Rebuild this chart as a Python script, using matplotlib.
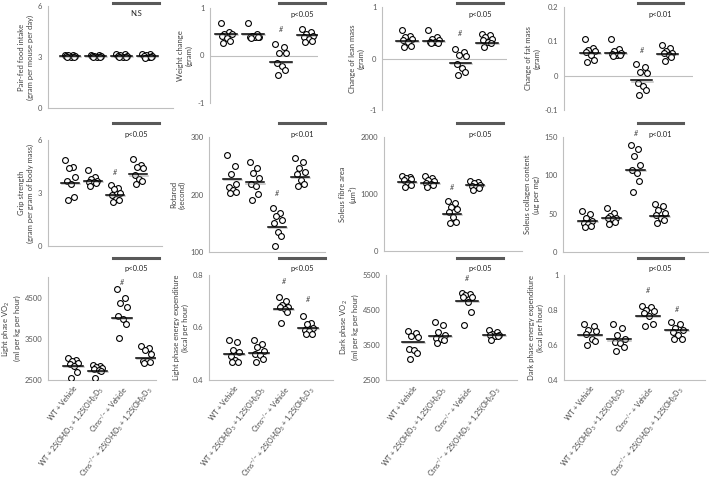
import matplotlib
matplotlib.use("Agg")
import matplotlib.pyplot as plt
import matplotlib.patheffects as pe
from matplotlib.lines import Line2D
import numpy as np

plt.rcParams['font.family'] = ['Lato', 'DejaVu Sans']
plt.rcParams['mathtext.fontset'] = 'custom'
plt.rcParams['mathtext.rm'] = 'Lato'
plt.rcParams['mathtext.it'] = 'Lato:italic'
plt.rcParams['mathtext.bf'] = 'Lato:bold'

W, H = 709, 478

groups = ["WT + Vehicle",
          "WT + 25(OH)D$_3$ + 1,25(OH)$_2$D$_3$",
          "Ctns$^{-/-}$ + Vehicle",
          "Ctns$^{-/-}$ + 25(OH)D$_3$ + 1,25(OH)$_2$D$_3$"]

# valori, un elenco per gruppo
food_intake = [[3.0, 3.1, 3.05, 3.0, 3.1, 3.0, 3.05, 3.1],
               [3.0, 3.1, 3.05, 3.0, 3.1, 3.0, 3.05, 3.05],
               [3.0, 3.15, 3.05, 3.0, 3.2, 3.0, 3.1, 3.05],
               [3.0, 3.15, 3.05, 2.95, 3.2, 3.0, 3.1, 3.05]]
food_mean = [3.05, 3.05, 3.05, 3.05]

weight_change = [[0.68, 0.49, 0.46, 0.45, 0.37, 0.3, 0.27, 0.42],
                 [0.68, 0.45, 0.4, 0.38, 0.37, 0.42, 0.4, 0.38],
                 [0.25, 0.18, 0.05, 0.05, -0.15, -0.22, -0.3, -0.42],
                 [0.55, 0.5, 0.45, 0.42, 0.38, 0.35, 0.3, 0.28]]
weight_mean = [0.45, 0.45, -0.14, 0.43]

lean_mass = [[0.56, 0.43, 0.41, 0.37, 0.32, 0.24, 0.23, 0.36],
             [0.56, 0.42, 0.37, 0.32, 0.30, 0.33, 0.35, 0.31],
             [0.19, 0.13, 0.06, 0.05, -0.1, -0.19, -0.26, -0.32],
             [0.48, 0.45, 0.41, 0.37, 0.32, 0.30, 0.23, 0.35]]
lean_mean = [0.34, 0.34, -0.08, 0.30]

fat_mass = [[0.108, 0.08, 0.075, 0.07, 0.06, 0.046, 0.041, 0.072],
            [0.108, 0.077, 0.072, 0.067, 0.06, 0.058, 0.063, 0.061],
            [0.035, 0.025, 0.01, 0.008, -0.02, -0.03, -0.043, -0.055],
            [0.09, 0.08, 0.073, 0.067, 0.06, 0.054, 0.043, 0.065]]
fat_mean = [0.067, 0.067, -0.014, 0.063]

grip = [[4.85, 4.5, 4.4, 3.9, 3.7, 3.5, 2.75, 2.6],
        [4.3, 3.9, 3.8, 3.7, 3.6, 3.55, 3.4, 3.65],
        [3.43, 3.3, 3.2, 3.0, 2.87, 2.68, 2.6, 2.5],
        [4.94, 4.6, 4.5, 4.4, 4.0, 3.7, 3.53, 3.8]]
grip_mean = [3.57, 3.66, 2.87, 4.05]

rotarod = [[268, 249, 236, 219, 213, 207, 202, 205],
           [256, 246, 238, 228, 218, 214, 201, 190],
           [176, 167, 162, 156, 150, 134, 128, 111],
           [263, 256, 246, 240, 236, 225, 218, 214]]
rotarod_mean = [227, 221, 143, 231]

fibre_area = [[1309, 1292, 1264, 1197, 1152, 1124, 1280, 1240],
              [1320, 1275, 1253, 1197, 1152, 1130, 1220, 1180],
              [871, 843, 770, 730, 690, 590, 517, 489],
              [1236, 1208, 1163, 1140, 1107, 1067, 1190, 1120]]
fibre_mean = [1208, 1191, 657, 1152]

collagen = [[53.5, 50, 44.5, 40, 37.5, 34, 32, 36],
            [57, 51.5, 47, 45, 42.5, 39, 37, 44],
            [140, 135, 125, 113, 107, 103, 92, 78],
            [62, 60.5, 55, 51.5, 48, 41.5, 37.5, 45]]
collagen_mean = [40, 44.5, 107, 46.5]

light_vo2 = [[3030, 2990, 2910, 2830, 2700, 2540, 2950, 2880],
             [2870, 2830, 2790, 2750, 2540, 2810, 2760, 2720],
             [4700, 4500, 4380, 4270, 4050, 3980, 3850, 3530],
             [3330, 3280, 3230, 3140, 2970, 2920, 2950, 2940]]
light_vo2_mean = [2840, 2710, 4000, 3030]

light_ee = [[0.544, 0.552, 0.515, 0.506, 0.49, 0.477, 0.469, 0.47],
            [0.537, 0.552, 0.525, 0.512, 0.494, 0.481, 0.469, 0.50],
            [0.715, 0.70, 0.687, 0.677, 0.669, 0.66, 0.619, 0.68],
            [0.644, 0.619, 0.612, 0.60, 0.59, 0.577, 0.575, 0.585]]
light_ee_mean = [0.50, 0.504, 0.669, 0.597]

dark_vo2 = [[3900, 3840, 3750, 3400, 3350, 3280, 3110, 3730],
            [4150, 4060, 3870, 3780, 3680, 3640, 3570, 3700],
            [5000, 4930, 4880, 4860, 4720, 4430, 4060, 4950],
            [3930, 3870, 3800, 3750, 3640, 3780, 3760, 3820]]
dark_vo2_mean = [3590, 3750, 4760, 3800]

dark_ee = [[0.706, 0.721, 0.684, 0.665, 0.637, 0.624, 0.60, 0.68],
           [0.721, 0.698, 0.655, 0.637, 0.609, 0.59, 0.568, 0.62],
           [0.824, 0.818, 0.797, 0.782, 0.768, 0.721, 0.706, 0.80],
           [0.73, 0.721, 0.687, 0.674, 0.655, 0.637, 0.632, 0.70]]
dark_ee_mean = [0.66, 0.632, 0.768, 0.687]

# (valori, media, etichetta y, limiti y, passo tick, "#" sopra i gruppi, testo p)
panels = [
    (food_intake, food_mean, "Pair-fed food intake\n(gram per mouse per day)", (0, 6), 3, {}, "N.S"),
    (weight_change, weight_mean, "Weight change\n(gram)", (-1, 1), 1, {2: 0.47}, "p<0.05"),
    (lean_mass, lean_mean, "Change of lean mass\n(gram)", (-1, 1), 1, {2: 0.41}, "p<0.05"),
    (fat_mass, fat_mean, "Change of fat mass\n(gram)", (-0.1, 0.2), 0.1, {2: 0.063}, "p<0.01"),
    (grip, grip_mean, "Grip strength\n(gram per gram of body mass)", (0, 6), 3, {2: 3.94}, "p<0.05"),
    (rotarod, rotarod_mean, "Rotarod\n(second)", (100, 300), 100, {2: 195}, "p<0.01"),
    (fibre_area, fibre_mean, "Soleus fibre area\n(μm²)", (0, 2000), 1000, {2: 1050}, "p<0.05"),
    (collagen, collagen_mean, "Soleus collagen content\n(μg per mg)", (0, 150), 50, {2: 150}, "p<0.01"),
    (light_vo2, light_vo2_mean, "Light phase VO$_2$\n(ml per kg per hour)", (2500, 5000), 1000, {2: 4780}, "p<0.05"),
    (light_ee, light_ee_mean, "Light phase energy expenditure\n(kcal per hour)", (0.4, 0.8), 0.2, {2: 0.762, 3: 0.692}, "p<0.05"),
    (dark_vo2, dark_vo2_mean, "Dark phase VO$_2$\n(ml per kg per hour)", (2500, 5500), 1000, {2: 5300}, "p<0.05"),
    (dark_ee, dark_ee_mean, "Dark phase energy expenditure\n(kcal per hour)", (0.4, 1.0), 0.2, {2: 0.89, 3: 0.78}, "p<0.05"),
]

# posizioni in pixel: x sinistra, x destra, y alto, y basso, xlim
boxes = [
    (48, 173, 6, 108, (0.15, 5.0)), (210, 318, 8, 103, (0.41, 4.37)),
    (382, 507, 7, 110, (0.06, 4.75)), (564, 693, 7, 110, (-0.01, 5.0)),
    (48, 162, 140, 246, (0.03, 5.06)), (209, 325, 137, 252, (-0.01, 5.1)),
    (384, 522, 137, 251, (-0.01, 6.07)), (563, 708, 137, 252, (0.0, 6.0)),
    (48, 156, 277, 380, (-0.03, 4.4)), (209, 333, 275, 380, (-0.01, 5.0)),
    (386, 517, 275, 380, (0.0, 4.85)), (564, 705, 275, 380, (0.1, 4.97)),
]
sig_bars = [(113, 159, 3), (279, 325, 3), (457, 503, 3), (638, 683, 3),
            (113, 159, 123), (279, 325, 123), (457, 503, 123), (638, 683, 123),
            (113, 159, 258), (279, 325, 258), (457, 503, 258), (638, 683, 258)]

jitter = [-0.2, 0.12, -0.06, 0.2, -0.14, 0.05, 0.16, -0.1]
tick_grey = '#595959'
axis_grey = '#BFBFBF'

fig = plt.figure(figsize=(W / 100, H / 100), dpi=100)

for i, (vals, means, ylabel, ylim, step, hashes, ptext) in enumerate(panels):
    x0, x1, y0, y1, xlim = boxes[i]
    ax = fig.add_axes([x0 / W, 1 - y1 / H, (x1 - x0) / W, (y1 - y0) / H])
    for g, v in enumerate(vals):
        v = sorted(v, reverse=True)
        xs = [g + 1 + jitter[k % len(jitter)] for k in range(len(v))]
        ax.plot(xs, v, 'o', ms=4.2, mfc='white', mec='black', mew=0.8, zorder=3)
        ax.plot([g + 0.6, g + 1.4], [means[g], means[g]], color='black', lw=1.1, zorder=4,
                path_effects=[pe.SimpleLineShadow(offset=(0.6, -0.8), shadow_color='grey', alpha=0.5),
                              pe.Normal()])
    for g, hy in hashes.items():
        ax.text(g + 1, hy, "#", ha='center', va='bottom', fontsize=5, style='italic', color='#404040')

    ax.set_xlim(*xlim)
    ax.set_ylim(*ylim)
    ax.set_yticks(np.arange(ylim[0], ylim[1] + step / 2, step))
    ax.yaxis.set_major_formatter(plt.FuncFormatter(lambda v, p: '{:g}'.format(round(v, 3))))
    ax.tick_params(axis='y', length=0, labelsize=5.5, labelcolor=tick_grey, pad=4)
    ax.tick_params(axis='x', length=0, pad=3)
    for s in ['top', 'right']:
        ax.spines[s].set_visible(False)
    ax.spines['left'].set_color(axis_grey)
    ax.spines['bottom'].set_color(axis_grey)
    if ylim[0] < 0:
        ax.spines['bottom'].set_visible(False)
        ax.axhline(0, color=axis_grey, lw=0.8, zorder=1)
    ax.set_ylabel(ylabel, fontsize=5.5, color='#404040', labelpad=3, linespacing=1.3)
    ax.set_xticks([1, 2, 3, 4])
    if i >= 8:
        ax.set_xticklabels(groups, rotation=52, ha='right', rotation_mode='anchor',
                           fontsize=5, color='#404040')
    else:
        ax.set_xticklabels([])

    bx0, bx1, by = sig_bars[i]
    fig.add_artist(Line2D([bx0 / W, bx1 / W], [1 - by / H, 1 - by / H], color='#595959', lw=2.2))
    fig.text((bx0 + bx1) / 2 / W, 1 - (by + 11) / H, ptext, ha='center', va='center',
             fontsize=5.5, color='#262626')

fig.savefig("out.png", dpi=100)
